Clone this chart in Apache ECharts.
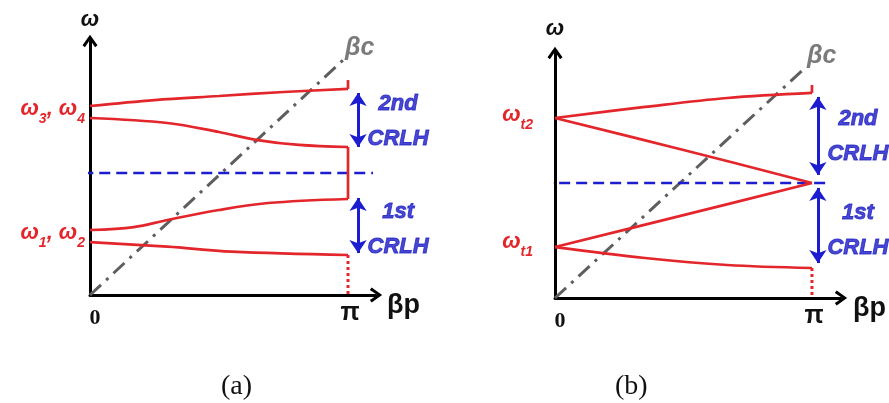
<!DOCTYPE html>
<html>
<head>
<meta charset="utf-8">
<script src="https://cdn.jsdelivr.net/npm/echarts@6/dist/echarts.min.js"></script>
<style>
  html, body { margin: 0; padding: 0; background: #ffffff; }
  #chart { width: 889px; height: 403px; }
</style>
</head>
<body>
<div id="chart"></div>
<script>
// Dispersion diagrams of two stacked CRLH bands.
// Horizontal axis: βp in units of π.  Vertical axis: ω normalised to the
// frequency marked by the blue dashed line (= 1).

// ---- (a) unbalanced case ----
const aBand4 = [[0, 1.549], [0.25, 1.598], [0.5, 1.631], [0.75, 1.664], [1, 1.689]];
const aBand3 = [[0, 1.451], [0.3, 1.41], [0.5, 1.336], [0.65, 1.27], [0.81, 1.23], [1, 1.213]];
const aBand2 = [[0, 0.533], [0.17, 0.557], [0.3, 0.615], [0.5, 0.697], [0.69, 0.754], [1, 0.787]];
const aBand1 = [[0, 0.434], [0.3, 0.396], [0.55, 0.355], [1, 0.328]];
const aTopTick = [[1, 1.689], [1, 1.762]];
const aGapEdge = [[1, 1.213], [1, 0.787]];
const aDrop = [[1, 0.328], [1, 0]];
const aLight = [[0, 0], [0.981, 1.926]];
const aMid = [[-0.03, 1], [1.097, 1]];
const aArrow2 = [1.039, 1.656, 1.213];
const aArrow1 = [1.039, 0.795, 0.344];
const aTicks = [1.5, 0.4835];
const aTickText = ['{w|ω}{s|3}{w|, ω}{s|4}', '{w|ω}{s|1}{w|, ω}{s|2}'];
const aNotes = [[1.194, 1.425, '2nd\nCRLH'], [1.194, 0.54, '1st\nCRLH']];

// ---- (b) balanced case ----
const bBand4 = [[0, 1.565], [0.35, 1.661], [0.67, 1.739], [1, 1.783]];
const bBand3 = [[0, 1.565], [0.5, 1.287], [1, 1.0]];
const bBand2 = [[0, 0.443], [0.5, 0.72], [1, 1.0]];
const bBand1 = [[0, 0.443], [0.35, 0.348], [0.67, 0.287], [1, 0.261]];
const bTopTick = [[1, 1.783], [1, 1.852]];
const bDrop = [[1, 0.261], [1, 0]];
const bLight = [[0, 0], [0.973, 2.0]];
const bMid = [[-0.05, 1], [1.07, 1]];
const bArrow2 = [1.023, 1.748, 1.07];
const bArrow1 = [1.023, 0.957, 0.304];
const bTicks = [1.565, 0.46];
const bTickText = ['{w|ω}{s|t2}', '{w|ω}{s|t1}'];
const bNotes = [[1.179, 1.405, '2nd\nCRLH'], [1.179, 0.59, '1st\nCRLH']];

const RED = '#e3262b';
const BLUE = '#1c1cd0';
const NOTE = '#1a1ac4';
const GREY = '#5e5e5e';
const SANS = 'Liberation Sans';
// open, heavy arrow head pointing up (rotated by the axis)
const HEAD = 'path://M0,70 L50,0 L100,70 L84,82 L50,32 L16,82 Z';

function xAxisFor(gi, max, gap) {
  return {
    type: 'value', gridIndex: gi, min: 0, max: max,
    name: 'βp', nameLocation: 'end', nameGap: gap,
    nameTextStyle: { fontFamily: SANS, fontWeight: 'bold', fontSize: 27, lineHeight: 22, verticalAlign: 'top', color: '#111' },
    axisLine: { show: true, onZero: true, symbol: ['none', HEAD], symbolSize: [15, 13], lineStyle: { color: '#000', width: 3 } },
    axisTick: { show: false },
    splitLine: { show: false },
    axisLabel: {
      customValues: [0, 1], margin: 6,
      formatter: v => (v === 0 ? '{z|0}' : '{p|π}'),
      rich: {
        z: { fontFamily: 'Liberation Serif', fontWeight: 'bold', fontSize: 22, color: '#111', padding: [6, 0, 0, 10] },
        p: { fontFamily: SANS, fontWeight: 'bold', fontSize: 25, color: '#111', padding: [0, 0, 0, 4] }
      }
    }
  };
}

function yAxisFor(gi, max, gap, ticks, texts, margin) {
  return {
    type: 'value', gridIndex: gi, min: 0, max: max,
    name: 'ω', nameLocation: 'end', nameGap: gap,
    nameTextStyle: { fontFamily: SANS, fontWeight: 'bold', fontStyle: 'italic', fontSize: 22, color: '#111' },
    axisLine: { show: true, onZero: true, symbol: ['none', HEAD], symbolSize: [15, 13], lineStyle: { color: '#000', width: 3 } },
    axisTick: { show: false },
    splitLine: { show: false },
    axisLabel: {
      customValues: ticks, margin: margin,
      formatter: v => texts[ticks.indexOf(v)],
      rich: {
        w: { fontFamily: SANS, fontWeight: 'bold', fontStyle: 'italic', fontSize: 22, color: RED, verticalAlign: 'top', padding: [0, 0, 7, 0] },
        s: { fontFamily: SANS, fontWeight: 'bold', fontStyle: 'italic', fontSize: 14, color: RED, verticalAlign: 'bottom' }
      }
    }
  };
}

function redLine(gi, data, dotted) {
  return {
    type: 'line', xAxisIndex: gi, yAxisIndex: gi, data: data, smooth: dotted ? false : 0.35,
    showSymbol: false, symbol: 'none', silent: true, clip: false,
    lineStyle: { color: RED, width: dotted ? 3 : 2.7, type: dotted ? [3, 3] : 'solid' }
  };
}

function lightLine(gi, data) {
  return {
    type: 'line', xAxisIndex: gi, yAxisIndex: gi, data: data, showSymbol: false, symbol: 'none',
    silent: true, clip: false,
    lineStyle: { color: GREY, width: 3, type: [15, 7, 3, 7] },
    endLabel: {
      show: true, formatter: 'βc', distance: 2, offset: [0, -12],
      fontFamily: SANS, fontWeight: 'bold', fontStyle: 'italic', fontSize: 25, color: '#7a7a7a'
    }
  };
}

function midLine(gi, data, a2, a1) {
  const arrow = a => [{ coord: [a[0], a[1]] }, { coord: [a[0], a[2]] }];
  return {
    type: 'line', xAxisIndex: gi, yAxisIndex: gi, data: data, showSymbol: false, symbol: 'none',
    silent: true, clip: false,
    lineStyle: { color: BLUE, width: 2.6, type: [11, 6] },
    markLine: {
      silent: true, symbol: ['arrow', 'arrow'], symbolSize: [13, 13],
      label: { show: false },
      lineStyle: { color: BLUE, width: 3, type: 'solid' },
      data: [arrow(a2), arrow(a1)]
    }
  };
}

function notes(gi, items) {
  return {
    type: 'scatter', xAxisIndex: gi, yAxisIndex: gi, silent: true, clip: false,
    symbolSize: 0,
    data: items.map(n => ({ value: [n[0], n[1]], name: n[2] })),
    label: {
      show: true, position: 'inside', formatter: p => p.name, align: 'center',
      fontFamily: SANS, fontWeight: 'bold', fontStyle: 'italic', fontSize: 22, lineHeight: 35,
      color: NOTE, textBorderColor: NOTE, textBorderWidth: 0.9
    }
  };
}

const option = {
  backgroundColor: '#ffffff',
  animation: false,
  title: [
    { text: '(a)', left: 216, top: 368, textStyle: { fontFamily: 'Liberation Serif', fontWeight: 'normal', fontSize: 28, color: '#111' } },
    { text: '(b)', left: 610, top: 368, textStyle: { fontFamily: 'Liberation Serif', fontWeight: 'normal', fontSize: 28, color: '#111' } }
  ],
  grid: [
    { left: 90, top: 41, width: 286, height: 254, outerBoundsMode: 'none' },
    { left: 555, top: 53, width: 286, height: 245, outerBoundsMode: 'none' }
  ],
  xAxis: [xAxisFor(0, 1.1085, 11), xAxisFor(1, 1.113, 12)],
  yAxis: [
    yAxisFor(0, 2.082, 10, aTicks, aTickText, 5),
    yAxisFor(1, 2.13, 13, bTicks, bTickText, 22)
  ],
  series: [
    lightLine(0, aLight),
    midLine(0, aMid, aArrow2, aArrow1),
    redLine(0, aBand4), redLine(0, aBand3), redLine(0, aBand2), redLine(0, aBand1),
    redLine(0, aTopTick), redLine(0, aGapEdge), redLine(0, aDrop, true),
    notes(0, aNotes),

    lightLine(1, bLight),
    midLine(1, bMid, bArrow2, bArrow1),
    redLine(1, bBand4), redLine(1, bBand3), redLine(1, bBand2), redLine(1, bBand1),
    redLine(1, bTopTick), redLine(1, bDrop, true),
    notes(1, bNotes)
  ]
};

const chart = echarts.init(document.getElementById('chart'), null, { renderer: 'canvas' });
chart.setOption(option);
</script>
</body>
</html>
